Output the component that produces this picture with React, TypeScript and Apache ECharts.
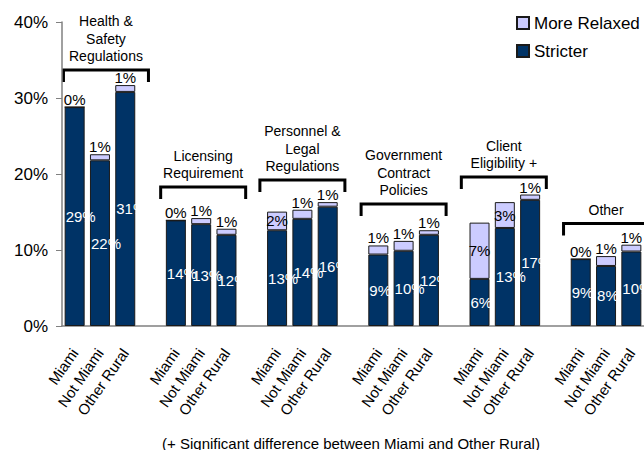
import React, { useEffect, useRef } from "react";
import * as echarts from "echarts";

// ---------- data ----------
const regions = ["Miami", "Not Miami", "Other Rural"];
const groupNames = [
  "Health &\nSafety\nRegulations",
  "Licensing\nRequirement",
  "Personnel &\nLegal\nRegulations",
  "Government\nContract\nPolicies",
  "Client\nEligibility +",
  "Other",
];
// per group: Miami, Not Miami, Other Rural
const stricter = [28.8, 21.8, 30.8, 13.9, 13.4, 12.0, 12.6, 14.1, 15.7, 9.4, 9.9, 12.0, 6.2, 12.9, 16.6, 8.8, 7.9, 9.8];
const moreRelaxed = [0, 0.8, 0.9, 0, 0.8, 0.8, 2.45, 1.2, 0.6, 1.2, 1.3, 0.6, 7.4, 3.4, 0.7, 0, 1.3, 0.9];
const seriesNames = ["More Relaxed", "Stricter"];
const footnote = "(+ Significant difference between Miami and Other Rural)";

// ---------- annotation layout ----------
const bracketLevels = [33.7, 18.3, 19.2, 16.05, 19.6, 13.5];
const bracketShift = [6, 2, 0, 0, -1, 0];

const FONT = "'Liberation Sans', Arial, Helvetica, sans-serif";
const DARK = "#003366";
const LIGHT = "#CCCCFF";
const BORDER = "#1a1a1a";

export default function App() {
  const ref = useRef<HTMLDivElement>(null);

  useEffect(() => {
    if (!ref.current) return;
    const chart = echarts.init(ref.current, null, { renderer: "svg" });

    const categories: string[] = [];
    const strictData: any[] = [];
    const relaxedData: any[] = [];
    groupNames.forEach((_, g) => {
      regions.forEach((r, i) => {
        const k = g * 3 + i;
        categories.push(r);
        strictData.push(stricter[k]);
        const v = moreRelaxed[k];
        relaxedData.push({
          value: v,
          label: { position: v >= 2 ? "inside" : "top" },
        });
      });
      if (g < groupNames.length - 1) {
        categories.push("");
        strictData.push("-");
        relaxedData.push("-");
      }
    });

    const option: any = {
      animation: false,
      textStyle: { fontFamily: FONT },
      grid: { left: 62, right: 0, top: 22, bottom: 124, containLabel: false },
      legend: {
        data: seriesNames,
        orient: "vertical",
        left: 511,
        top: 8,
        itemWidth: 12,
        itemHeight: 12,
        itemGap: 8,
        icon: "rect",
        textStyle: { fontSize: 17, color: "#000", fontFamily: FONT, lineHeight: 20 },
      },
      xAxis: {
        type: "category",
        data: categories,
        axisLine: { show: true, lineStyle: { color: "#808080", width: 1.5 } },
        axisTick: { show: false },
        axisLabel: {
          interval: 0,
          rotate: 55,
          margin: 24,
          fontSize: 15,
          color: "#000",
          fontFamily: FONT,
        },
      },
      yAxis: {
        type: "value",
        min: 0,
        max: 40,
        interval: 10,
        axisLine: { show: true, lineStyle: { color: "#808080", width: 1.5 } },
        axisTick: { show: true, length: 6, lineStyle: { color: "#808080" } },
        splitLine: { show: false },
        axisLabel: {
          formatter: "{value}%",
          fontSize: 17,
          color: "#000",
          margin: 14,
          fontFamily: FONT,
        },
      },
      series: [
        {
          name: "Stricter",
          type: "bar",
          stack: "total",
          barWidth: 20,
          data: strictData,
          itemStyle: { color: DARK, borderColor: BORDER, borderWidth: 1 },
          label: {
            show: true,
            position: "insideLeft",
            distance: 1,
            color: "#fff",
            fontSize: 15,
            fontFamily: FONT,
            formatter: (p: any) => Math.round(p.value) + "%",
          },
        },
        {
          name: "More Relaxed",
          type: "bar",
          stack: "total",
          barWidth: 20,
          data: relaxedData,
          itemStyle: { color: LIGHT, borderColor: BORDER, borderWidth: 1 },
          label: {
            show: true,
            distance: 0,
            color: "#000",
            fontSize: 15,
            fontFamily: FONT,
            formatter: (p: any) => Math.round(p.value) + "%",
          },
        },
      ],
    };
    chart.setOption(option);

    const graphics: any[] = [];
    groupNames.forEach((name, g) => {
      const xMid = (chart.convertToPixel({ xAxisIndex: 0 }, g * 4 + 1) as number) + bracketShift[g];
      const y = chart.convertToPixel({ yAxisIndex: 0 }, bracketLevels[g]) as number;
      const half = 42.5;
      graphics.push({
        type: "polyline",
        shape: {
          points: [
            [xMid - half, y + 12],
            [xMid - half, y],
            [xMid + half, y],
            [xMid + half, y + 12],
          ],
        },
        style: { stroke: "#000", lineWidth: 3, fill: null },
      });
      graphics.push({
        type: "text",
        x: xMid,
        y: y - 5,
        style: {
          text: name,
          textAlign: "center",
          textVerticalAlign: "bottom",
          fontSize: 14,
          lineHeight: 17.5,
          fontFamily: FONT,
          fill: "#000",
        },
      });
    });
    graphics.push({
      type: "text",
      x: 351,
      y: 443,
      style: {
        text: footnote,
        textAlign: "center",
        textVerticalAlign: "middle",
        fontSize: 15,
        fontFamily: FONT,
        fill: "#000",
      },
    });
    chart.setOption({ graphic: graphics });

    return () => chart.dispose();
  }, []);

  return (
    <div
      ref={ref}
      style={{ position: "fixed", left: 0, top: 0, width: 644, height: 450, background: "#fff" }}
    />
  );
}
